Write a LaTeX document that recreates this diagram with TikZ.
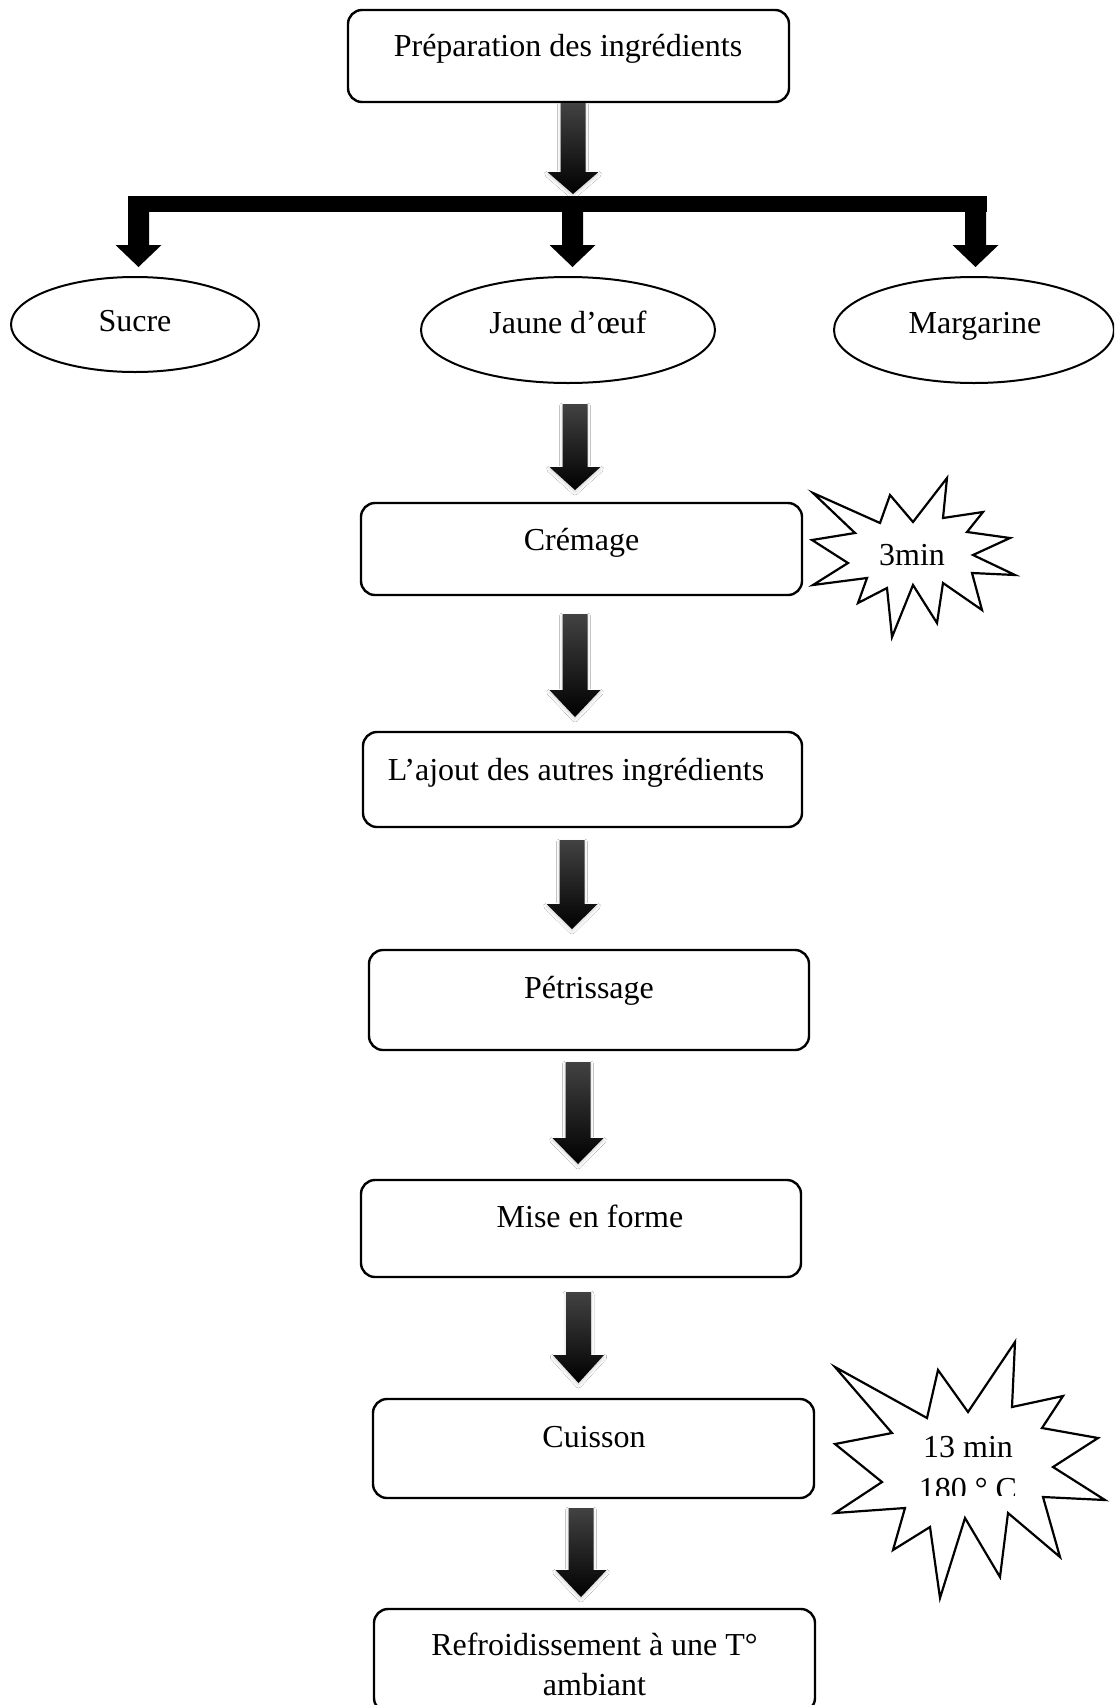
\documentclass[tikz,border=0pt]{standalone}
\usepackage{fontspec}
\setmainfont{Liberation Serif}
\usetikzlibrary{shapes.geometric,shadows.blur}
\newcommand\gradarrow[5]{%
  \coordinate (#1) at (#2,#3);
  \shade[garrow] (#2-12.5,#3) -- (#2+12.5,#3) -- (#2+12.5,#4) -- (#2+25.5,#4) -- (#2,#5) -- (#2-25.5,#4) -- (#2-12.5,#4) -- cycle;}
\newcommand\solidarrow[2]{%
  \coordinate (#1) at (#2,212);
  \fill[black] (#2-10.5,211) -- (#2+10.5,211) -- (#2+10.5,245) -- (#2+23,245) -- (#2,267) -- (#2-23,245) -- (#2-10.5,245) -- cycle;}
\begin{document}
\begin{tikzpicture}[x=1pt,y=-1pt,
  every node/.style={font=\fontsize{32}{37}\selectfont},
  pbox/.style={draw, line width=2.4pt, rounded corners=14pt, rectangle, inner sep=0pt},
  ovalnode/.style={draw, line width=2pt, ellipse, inner sep=0pt},
  txt/.style={anchor=base, inner sep=0pt},
  burst/.style={draw, line width=2.2pt, fill=white, line join=miter},
  garrow/.style={top color=black!74, middle color=black, bottom color=black,
     blur shadow={shadow xshift=0pt, shadow yshift=-2pt, shadow blur radius=3pt, shadow opacity=18}}]
\fill[white] (0,0) rectangle (1114,1705);
\useasboundingbox (0,0) rectangle (1114,1705);
\clip (0,0) rectangle (1114,1705);

% boxes
\node[pbox, minimum width=441pt, minimum height=92pt] (prep) at (568.5,56) {};
\node[txt] (prep-t) at (568,56) {Préparation des ingrédients};

\node[pbox, minimum width=441pt, minimum height=92pt] (crem) at (581.5,549) {};
\node[txt] (crem-t) at (581.5,550) {Crémage};

\node[pbox, minimum width=439pt, minimum height=95pt] (ajout) at (582.5,779.5) {};
\node[txt] (ajout-t) at (576,780) {L’ajout des autres ingrédients};

\node[pbox, minimum width=440pt, minimum height=100pt] (petr) at (589,1000) {};
\node[txt] (petr-t) at (589,998) {Pétrissage};

\node[pbox, minimum width=440pt, minimum height=97pt] (mise) at (581,1228.5) {};
\node[txt] (mise-t) at (590,1227) {Mise en forme};

\node[pbox, minimum width=441pt, minimum height=99pt] (cuis) at (593.5,1448.5) {};
\node[txt] (cuis-t) at (594,1447) {Cuisson};

\node[pbox, minimum width=441pt, minimum height=103pt] (refr) at (594.5,1660.5) {};
\node[txt] (refr-t1) at (594.5,1655) {Refroidissement à une T°};
\node[txt] (refr-t2) at (594.5,1695) {ambiant};

% ellipses
\node[ovalnode, minimum width=248pt, minimum height=95pt] (sucre) at (135,324.5) {};
\node[txt] (sucre-t) at (135,331) {Sucre};
\node[ovalnode, minimum width=294pt, minimum height=106pt] (jaune) at (568,330) {};
\node[txt] (jaune-t) at (568,333) {Jaune d’œuf};
\node[ovalnode, minimum width=280pt, minimum height=106pt] (marg) at (974,330) {};
\node[txt] (marg-t) at (975,333) {Margarine};

% branch connector
\fill[black] (128,196) rectangle (987,212);
\solidarrow{b1}{138.5}
\solidarrow{b2}{572.5}
\solidarrow{b3}{975.5}

% gradient arrows
\gradarrow{a1}{573}{103}{172}{194}
\gradarrow{a2}{575}{404}{467}{490}
\gradarrow{a3}{575}{614}{690}{717}
\gradarrow{a4}{572}{840}{904}{929}
\gradarrow{a5}{578}{1062}{1138}{1164}
\gradarrow{a6}{578.5}{1292}{1355}{1383}
\gradarrow{a7}{581}{1508}{1570}{1597}

% starburst 1
\draw[burst] (813,493) -- (880,523) -- (890,495) -- (913,522) -- (947,478) -- (943,518)
  -- (983,512) -- (967,532) -- (1010,538) -- (973,555) -- (1015,575) -- (972,573)
  -- (982,610) -- (943,583) -- (937,623) -- (913,585) -- (892,637) -- (887,588)
  -- (858,603) -- (867,578) -- (813,585) -- (848,563) -- (812,540) -- (855,533) -- cycle;
\node[txt] (burst1-t) at (912,565) {3min};

% starburst 2
\draw[burst] (835,1367) -- (927,1418) -- (938,1370) -- (968,1412) -- (1015,1342) -- (1012,1407)
  -- (1063,1396) -- (1042,1428) -- (1098,1438) -- (1053,1467) -- (1105,1500) -- (1043,1497)
  -- (1060,1557) -- (1008,1513) -- (1000,1577) -- (965,1518) -- (940,1598) -- (930,1527)
  -- (893,1550) -- (905,1508) -- (835,1513) -- (882,1482) -- (835,1444) -- (892,1433) -- cycle;
\node[txt] (burst2-t1) at (968,1457) {13 min};
\begin{scope}
\clip (880,1460) rectangle (1060,1495);
\node[txt] (burst2-t2) at (968,1499) {180 ° C};
\end{scope}
\end{tikzpicture}
\end{document}
